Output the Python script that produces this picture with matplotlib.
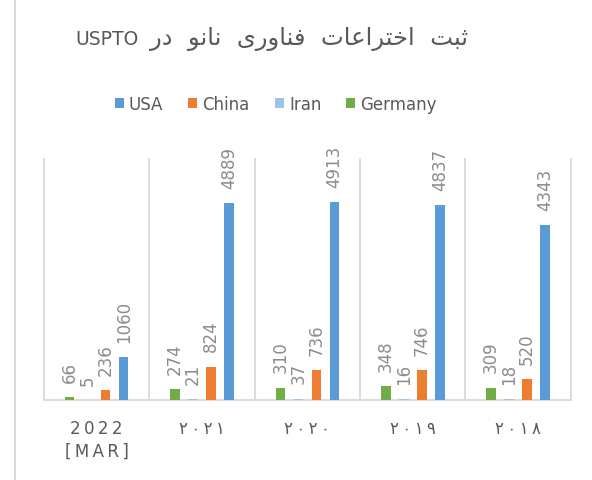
import numpy as np
import matplotlib
matplotlib.use("Agg")
import matplotlib.pyplot as plt
from matplotlib.lines import Line2D

plt.rcParams['font.family'] = ['DejaVu Sans']

# data (chronological; the x axis is drawn right-to-left)
years = ['\u06F2\u2009\u06F0\u2009\u06F1\u2009\u06F8',
         '\u06F2\u2009\u06F0\u2009\u06F1\u2009\u06F9',
         '\u06F2\u2009\u06F0\u2009\u06F2\u2009\u06F0',
         '\u06F2\u2009\u06F0\u2009\u06F2\u2009\u06F1',
         '2\u20090\u20092\u20092\n[\u2009M\u2009A\u2009R\u2009]']
series = ['USA', 'China', 'Iran', 'Germany']
usa = [4343, 4837, 4913, 4889, 1060]
china = [520, 746, 736, 824, 236]
iran = [18, 16, 37, 21, 5]
germany = [309, 348, 310, 274, 66]
colors = ['#5b9bd5', '#ed7d31', '#9dc3e6', '#70ad47']

# title, pre-shaped in visual order: "ثبت اختراعات فناوری نانو در USPTO"
w_dar = '\uFEAD\uFEA9'
w_nano = '\uFEEE\uFEE7\uFE8E\uFEE7'
w_fanavari = '\uFEEF\uFEAD\uFEED\uFE8E\uFEE8\uFED3'
w_ekhteraat = '\uFE95\uFE8E\uFECB\uFE8D\uFEAE\uFE98\uFEA7\uFE8D'
w_sabt = '\uFE96\uFE92\uFE9B'
title_latin = 'USPTO'
title_fa = '  '.join([w_dar, w_nano, w_fanavari, w_ekhteraat, w_sabt])

fig = plt.figure(figsize=(5.92, 4.81), dpi=100)
ax = fig.add_axes([0.0743, 0.1663, 0.890, 0.5031])

x = np.arange(len(years))
step = 0.171
width = 0.09
for j, (name, vals) in enumerate(zip(series, [usa, china, iran, germany])):
    bars = ax.bar(x + (j - 1.5) * step, vals, width, color=colors[j], label=name, zorder=3)
    ax.bar_label(bars, padding=11, rotation=90, fontsize=12, color='#8c8c8c')

ax.set_xlim(4.5, -0.5)
ax.set_ylim(0, 6000)
ax.vlines(np.arange(-0.5, 5.0, 1.0), 0, 6000, color='#d9d9d9', lw=1.3, clip_on=False, zorder=1)

ax.set_yticks([])
ax.set_xticks(x)
ax.set_xticklabels(years, fontsize=12, color='#595959', linespacing=1.3)
ax.tick_params(axis='x', length=0, pad=14)
for s in ['top', 'left', 'right']:
    ax.spines[s].set_visible(False)
ax.spines['bottom'].set_color('#d9d9d9')
ax.spines['bottom'].set_linewidth(1.3)

fig.text(75 / 592, 0.9064, title_latin, ha='left', va='baseline', fontsize=13.5, color='#595959')
fig.text(468 / 592, 0.9064, title_fa, ha='right', va='baseline', fontsize=17.5, color='#595959')
fig.legend(loc='center', bbox_to_anchor=(0.466, 0.782), ncol=4, frameon=False,
           fontsize=12, labelcolor='#595959', handlelength=0.55, handleheight=0.55,
           handletextpad=0.3, columnspacing=1.5)

# left frame edge of the screenshot
fig.add_artist(Line2D([15 / 592, 15 / 592], [0, 1], color='#d9d9d9', lw=1.5))

fig.savefig('out.png', dpi=100)
